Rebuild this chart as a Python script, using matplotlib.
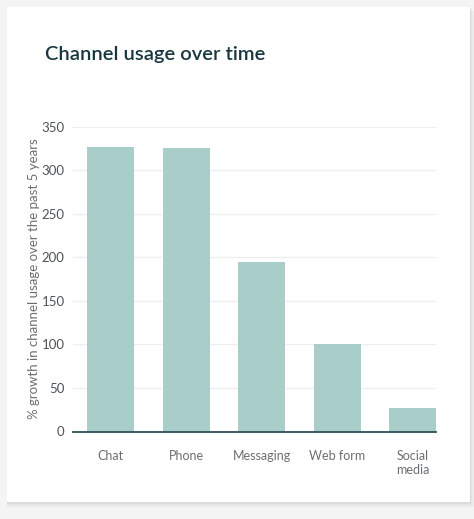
import matplotlib
matplotlib.use("Agg")
import matplotlib.pyplot as plt
from matplotlib.patches import FancyBboxPatch

categories = ["Chat", "Phone", "Messaging", "Web form", "Social\nmedia"]
values = [326, 325, 195, 100, 27]
yticks = [0, 50, 100, 150, 200, 250, 300, 350]

W, H = 474, 519
fig = plt.figure(figsize=(W / 100, H / 100), dpi=100)
fig.patch.set_facecolor("#f4f4f4")

# card with soft shadow
for i, a in enumerate([0.03, 0.03, 0.04]):
    off = (3 - i) * 1.2
    fig.patches.append(FancyBboxPatch((7 / W, (H - 503 - off) / H), (463 + off) / W, (496) / H,
                                      boxstyle="square,pad=0", transform=fig.transFigure,
                                      facecolor="#000000", alpha=a, edgecolor="none", zorder=-2))
fig.patches.append(FancyBboxPatch((7 / W, (H - 502) / H), 463 / W, 495 / H,
                                  boxstyle="square,pad=0", transform=fig.transFigure,
                                  facecolor="white", edgecolor="none", zorder=-1))

ax = fig.add_axes([73 / W, (H - 431.5) / H, 363 / W, 305 / H])
ax.set_zorder(5)
ax.set_facecolor("none")
x = list(range(len(categories)))
ax.bar(x, values, width=0.62, color="#a9cdc9", zorder=2)
ax.set_xlim(-0.5, 4.31)
ax.set_ylim(0, 350)
ax.set_yticks(yticks)
ax.set_xticks(x)
ax.set_xticklabels(categories, fontsize=9, color="#6a6f72", family="Lato", linespacing=1.2)
ax.set_yticklabels([str(v) for v in yticks], fontsize=9.5, color="#4e5457", family="Lato")
ax.tick_params(axis="both", length=0)
ax.tick_params(axis="x", pad=13)
ax.tick_params(axis="y", pad=6)
ax.grid(axis="y", color="#eeeeee", linewidth=0.9, zorder=0)
ax.set_axisbelow(True)
for s in ["top", "right", "left"]:
    ax.spines[s].set_visible(False)
ax.spines["bottom"].set_color("#2f4f57")
ax.spines["bottom"].set_linewidth(1.3)
ax.spines["bottom"].set_zorder(3)
ax.set_ylabel("% growth in channel usage over the past 5 years", fontsize=9.5,
              color="#6a6f72", family="Lato", labelpad=1)

fig.text(45 / W, 1 - 54 / H, "Channel usage over time", fontsize=14.5, fontweight="semibold",
         color="#17363e", family="Lato", va="center", ha="left", zorder=6)

fig.savefig("out.png", dpi=100)
